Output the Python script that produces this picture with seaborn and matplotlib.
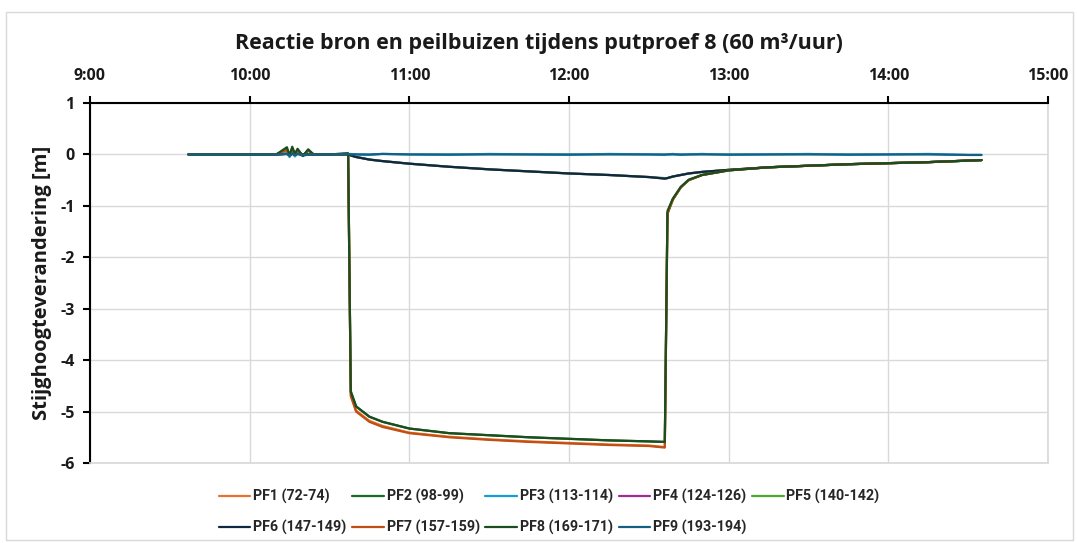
import pandas as pd
import matplotlib
matplotlib.use('Agg')
import matplotlib.pyplot as plt
from matplotlib.patches import Rectangle
from matplotlib.ticker import FuncFormatter
import seaborn as sns

# Time stamps (hh:mm) shared by all series
times = ["09:37", "09:50", "10:00", "10:10", "10:14", "10:15", "10:16", "10:17",
         "10:18", "10:20", "10:22", "10:24", "10:30", "10:37", "10:38", "10:40",
         "10:45", "10:50", "11:00", "11:15", "11:30", "11:45", "12:00", "12:15",
         "12:30", "12:36", "12:37", "12:39", "12:42", "12:45", "12:50", "13:00",
         "13:15", "13:30", "13:45", "14:00", "14:15", "14:30", "14:35"]

pf1 = [0.0, 0.0, 0.0, 0.0, 0.08, -0.02, 0.10, 0.0, 0.06, -0.02, 0.07, 0.0, 0.0, 0.01,
       -4.68, -4.98, -5.18, -5.28, -5.41, -5.49, -5.54, -5.58, -5.61, -5.64, -5.66, -5.69,
       -1.15, -0.88, -0.64, -0.50, -0.40, -0.31, -0.25, -0.22, -0.19, -0.17, -0.15, -0.12, -0.11]
pf2 = [0.0, 0.0, 0.0, 0.0, 0.10, -0.01, 0.12, 0.0, 0.08, -0.02, 0.08, 0.0, 0.0, 0.02,
       -4.60, -4.90, -5.10, -5.20, -5.33, -5.42, -5.46, -5.50, -5.53, -5.56, -5.58, -5.59,
       -1.15, -0.88, -0.64, -0.50, -0.40, -0.31, -0.25, -0.22, -0.19, -0.17, -0.15, -0.12, -0.11]
pf3 = [0.0, 0.0, 0.0, 0.0, 0.02, -0.05, 0.03, -0.04, 0.02, -0.03, 0.0, 0.0, 0.0, 0.0,
       0.01, 0.0, -0.01, 0.01, 0.0, -0.01, 0.01, 0.0, -0.01, 0.01, 0.0, -0.01,
       0.0, 0.01, -0.01, 0.0, 0.01, -0.01, 0.0, 0.01, -0.01, 0.0, 0.01, -0.01, -0.01]
pf4 = [0.0, 0.0, 0.0, 0.0, 0.01, -0.01, 0.01, 0.0, 0.01, 0.0, 0.0, 0.0, 0.0, 0.0,
       -0.02, -0.05, -0.10, -0.13, -0.18, -0.24, -0.29, -0.33, -0.37, -0.40, -0.44, -0.47,
       -0.46, -0.43, -0.40, -0.37, -0.34, -0.30, -0.25, -0.22, -0.19, -0.17, -0.15, -0.12, -0.11]
pf5 = [0.0, 0.0, 0.0, 0.0, 0.01, -0.01, 0.01, 0.0, 0.01, 0.0, 0.0, 0.0, 0.0, 0.0,
       -0.02, -0.05, -0.10, -0.13, -0.18, -0.24, -0.29, -0.33, -0.37, -0.40, -0.44, -0.46,
       -0.46, -0.43, -0.40, -0.37, -0.34, -0.30, -0.25, -0.22, -0.19, -0.17, -0.15, -0.12, -0.11]
pf6 = [0.0, 0.0, 0.0, 0.0, 0.01, -0.01, 0.01, 0.0, 0.01, 0.0, 0.0, 0.0, 0.0, 0.0,
       -0.02, -0.05, -0.10, -0.13, -0.18, -0.24, -0.29, -0.33, -0.37, -0.40, -0.44, -0.47,
       -0.46, -0.43, -0.40, -0.37, -0.34, -0.30, -0.25, -0.22, -0.19, -0.17, -0.15, -0.12, -0.11]
pf7 = [0.0, 0.0, 0.0, 0.0, 0.09, -0.03, 0.11, -0.01, 0.07, -0.03, 0.08, 0.0, 0.0, 0.01,
       -4.70, -5.00, -5.20, -5.30, -5.42, -5.50, -5.55, -5.59, -5.62, -5.65, -5.67, -5.70,
       -1.15, -0.88, -0.64, -0.50, -0.40, -0.31, -0.25, -0.22, -0.19, -0.17, -0.15, -0.12, -0.11]
pf8 = [0.0, 0.0, 0.0, 0.0, 0.14, -0.02, 0.15, 0.01, 0.11, -0.03, 0.10, 0.0, 0.0, 0.02,
       -4.62, -4.90, -5.10, -5.20, -5.33, -5.42, -5.46, -5.50, -5.53, -5.56, -5.58, -5.59,
       -1.10, -0.86, -0.63, -0.49, -0.40, -0.31, -0.25, -0.22, -0.19, -0.17, -0.15, -0.12, -0.11]
pf9 = [0.0, 0.0, 0.0, 0.0, 0.01, -0.02, 0.02, -0.01, 0.01, -0.01, 0.0, 0.0, 0.0, 0.01,
       0.0, 0.0, 0.0, 0.01, 0.0, 0.0, 0.0, 0.0, 0.0, 0.0, 0.0, 0.0,
       0.0, 0.0, 0.0, 0.0, 0.0, 0.0, 0.0, 0.0, 0.0, 0.0, 0.0, -0.01, -0.01]

labels = ["PF1 (72-74)", "PF2 (98-99)", "PF3 (113-114)", "PF4 (124-126)", "PF5 (140-142)",
          "PF6 (147-149)", "PF7 (157-159)", "PF8 (169-171)", "PF9 (193-194)"]
colors = ["#E97132", "#196B24", "#0F9ED5", "#A02B93", "#4EA72E",
          "#0E2841", "#C04F15", "#1B4D1E", "#156082"]

sns.set_theme(style='white')
plt.rcParams['font.family'] = ['Open Sans', 'DejaVu Sans']
plt.rcParams['axes.unicode_minus'] = False

hours = pd.to_timedelta([t + ":00" for t in times]).total_seconds() / 3600
frames = []
for lab, vals in zip(labels, [pf1, pf2, pf3, pf4, pf5, pf6, pf7, pf8, pf9]):
    frames.append(pd.DataFrame({'tijd': hours, 'waarde': vals, 'reeks': lab}))
df = pd.concat(frames, ignore_index=True)

fig = plt.figure(figsize=(10.77, 5.43), dpi=100)
fig.patches.append(Rectangle((6 / 1077, 3 / 543), 1067 / 1077, 528 / 543,
                             transform=fig.transFigure, fill=False,
                             edgecolor='#d9d9d9', linewidth=1.0))
ax = fig.add_axes([90 / 1077, 1 - 463 / 543, 958 / 1077, 360 / 543])

sns.lineplot(data=df, x='tijd', y='waarde', hue='reeks', hue_order=labels,
             palette=dict(zip(labels, colors)), linewidth=1.6, ax=ax,
             estimator=None, sort=False)

ax.set_xlim(9, 15)
ax.set_ylim(-6, 1)
ax.set_xticks(range(9, 16))
ax.xaxis.set_major_formatter(FuncFormatter(lambda v, p: f"{int(v)}:00"))
ax.set_yticks(range(-6, 2))
ax.xaxis.tick_top()
ax.grid(True, color='#d9d9d9', linewidth=1.0)
for side in ['bottom', 'right']:
    ax.spines[side].set_color('#d9d9d9')
for side in ['top', 'left']:
    ax.spines[side].set_color('black')
    ax.spines[side].set_linewidth(1.5)
ax.tick_params(axis='x', top=True, bottom=False, direction='out', length=5, width=1.5,
               color='black', pad=9, labelsize=11.5, labelcolor='#1a1a1a')
ax.tick_params(axis='y', left=True, direction='out', length=5, width=1.5,
               color='black', pad=6, labelsize=11.5, labelcolor='#1a1a1a')
for lbl in ax.get_xticklabels() + ax.get_yticklabels():
    lbl.set_fontweight('bold')

ax.set_xlabel('')
ax.set_ylabel('Stijghoogteverandering [m]', fontsize=14.5, fontweight='bold',
              labelpad=6, color='#1a1a1a')
fig.text(0.5, 1 - 43 / 543, 'Reactie bron en peilbuizen tijdens putproef 8 (60 m³/uur)',
         ha='center', va='center', fontsize=15.5, fontweight='bold', color='#1a1a1a')

# legend: reorder so it reads row by row
handles, labs = ax.get_legend_handles_labels()
order = [0, 5, 1, 6, 2, 7, 3, 8, 4]
ax.legend([handles[i] for i in order], [labs[i] for i in order], ncol=5,
          loc='center', bbox_to_anchor=(0.51, 1 - 512 / 543), bbox_transform=fig.transFigure,
          frameon=False, prop={'family': ['Roboto', 'DejaVu Sans'],
                               'weight': 'bold', 'size': 10.3},
          handlelength=2.2, handletextpad=0.2, columnspacing=0.4, labelspacing=1.1)

fig.savefig('out.png', dpi=100)
